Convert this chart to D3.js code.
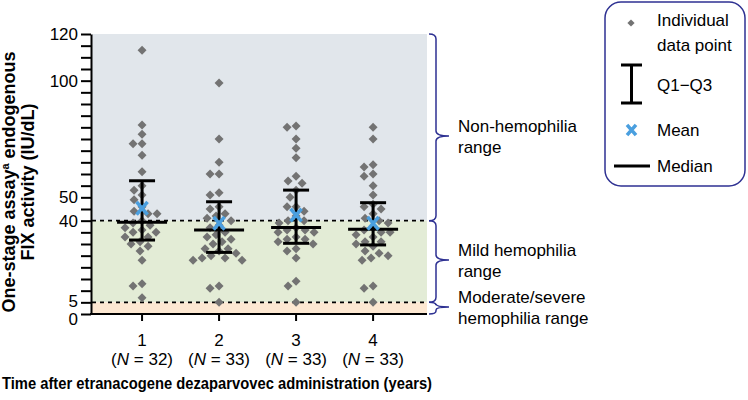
<!DOCTYPE html>
<html>
<head>
<meta charset="utf-8">
<script src="https://cdn.jsdelivr.net/npm/d3@7"></script>
<style>
  body { margin: 0; background: #fff; }
  svg { font-family: "Liberation Sans", Arial, sans-serif; }
</style>
</head>
<body>
<svg id="chart" width="748" height="400"></svg>
<script>
// data
var years = [1, 2, 3, 4];
var nLabels = ['32', '33', '33', '33'];

var year1 = [113, 81, 77, 73, 73, 68, 61, 55, 53, 51, 49, 46, 44, 43, 43, 40,
             39, 38, 37, 36, 35, 35, 33, 33, 31, 30, 29, 27, 23, 13, 12, 7];
var year2 = [99, 75, 65, 60, 60, 52, 51, 46, 45, 43, 42, 41, 40, 38, 37, 35, 34,
             33, 32, 31, 30, 28, 28, 27, 26, 25, 24, 24, 23, 23, 12, 11, 5];
var year3 = [80.6, 80, 75, 71, 67, 59, 57, 56, 53, 50, 46, 46, 44, 42, 40, 40, 39,
             37, 36, 36, 35, 35, 33, 32, 32, 31, 30, 28, 27, 24, 14, 12, 5];
var year4 = [80, 75, 64, 63, 60, 59, 55, 51, 47, 46, 45, 43, 41, 40, 39, 37, 36,
             35, 35, 34, 33, 31, 31, 30, 29, 27, 26, 25, 24, 23, 12, 11, 5];
var points = [year1, year2, year3, year4];

var q1 = [31.7, 26.4, 30.3, 29.6];
var medians = [39.3, 36.0, 37.1, 36.3];
var q3 = [57.1, 48.1, 53.1, 47.7];
var means = [45.3, 38.9, 42.4, 38.9];

var yTicks = [0, 5, 40, 50, 100, 120];
var bands = [
  { from: 40, to: 120, color: '#e1e6eb', label: ['Non-hemophilia', 'range'] },
  { from: 5, to: 40, color: '#e3ecd6', label: ['Mild hemophilia', 'range'] },
  { from: 0, to: 5, color: '#fde8d2', label: ['Moderate/severe', 'hemophilia range'] }
];

var navy = '#2e3192';
var grey = '#737373';
var blue = '#4a9fdf';

var svg = d3.select('#chart');

var x = d3.scaleLinear().domain([0.35, 4.7]).range([92, 427]);
var y = d3.scaleLinear().domain([0, 120]).range([314, 34]);

// background ranges
svg.selectAll('.band')
  .data(bands)
  .enter()
  .append('rect')
    .attr('x', x(0.35))
    .attr('width', x(4.7) - x(0.35))
    .attr('y', d => y(d.to))
    .attr('height', d => y(d.from) - y(d.to))
    .attr('fill', d => d.color);

svg.selectAll('.cutoff')
  .data([40, 5])
  .enter()
  .append('line')
    .attr('x1', x(0.35))
    .attr('x2', x(4.7))
    .attr('y1', d => y(d))
    .attr('y2', d => y(d))
    .attr('stroke', '#000')
    .attr('stroke-width', 1.6)
    .attr('stroke-dasharray', '4,4');

// beeswarm: push each point sideways until it no longer touches the others
var minGap = 9;
function swarm(values, cx) {
  var placed = [];
  values.slice().sort((a, b) => b - a).forEach(v => {
    var py = y(v);
    for (var k = 0; k < 400; k++) {
      var px = cx + (k % 2 ? -1 : 1) * Math.ceil(k / 2) * 0.5;
      var hit = placed.some(p => (p.x - px) * (p.x - px) + (p.y - py) * (p.y - py) < minGap * minGap);
      if (!hit) { placed.push({ x: px, y: py }); break; }
    }
  });
  return placed;
}

var diamond = d3.symbol().type(d3.symbolSquare).size(40);

years.forEach((yr, i) => {
  var g = svg.append('g');
  g.selectAll('path')
    .data(swarm(points[i], x(yr)))
    .enter()
    .append('path')
      .attr('d', diamond)
      .attr('transform', d => `translate(${d.x},${d.y}) rotate(45)`)
      .attr('fill', grey);
});

// Q1–Q3 bars and medians
var stats = svg.append('g')
  .attr('stroke', '#000')
  .attr('stroke-width', 3);

years.forEach((yr, i) => {
  var cx = x(yr);
  stats.append('line')
    .attr('x1', cx).attr('x2', cx)
    .attr('y1', y(q1[i])).attr('y2', y(q3[i]));
  [q1[i], q3[i]].forEach(q => {
    stats.append('line')
      .attr('x1', cx - 13).attr('x2', cx + 13)
      .attr('y1', y(q)).attr('y2', y(q));
  });
  stats.append('line')
    .attr('x1', cx - 25).attr('x2', cx + 25)
    .attr('y1', y(medians[i])).attr('y2', y(medians[i]));
});

function cross(sel, cx, cy, r) {
  sel.append('path')
    .attr('d', `M${cx - r},${cy - r * 1.15}L${cx + r},${cy + r * 1.15}M${cx - r},${cy + r * 1.15}L${cx + r},${cy - r * 1.15}`)
    .attr('stroke', blue)
    .attr('stroke-width', 3.5)
    .attr('fill', 'none');
}

years.forEach((yr, i) => cross(svg, x(yr), y(means[i]), 5.5));

// axes
var yAxis = d3.axisLeft(y)
  .tickValues(d3.range(0, 121, 5))
  .tickSize(10)
  .tickSizeOuter(0)
  .tickPadding(3)
  .tickFormat(d => yTicks.includes(d) ? d : '');

var gy = svg.append('g')
  .attr('transform', 'translate(91,0)')
  .call(yAxis);
gy.selectAll('line, path').attr('stroke-width', 2);
gy.selectAll('text')
  .style('font-size', '17px')
  .attr('fill', '#000')
  .attr('dy', d => d === 0 ? '0.6em' : d === 5 ? '0.25em' : '0.32em');

svg.append('line')
  .attr('x1', 90).attr('x2', x(4.7))
  .attr('y1', y(0)).attr('y2', y(0))
  .attr('stroke', '#000')
  .attr('stroke-width', 2);

var gx = svg.append('g');
years.forEach((yr, i) => {
  gx.append('line')
    .attr('x1', x(yr)).attr('x2', x(yr))
    .attr('y1', y(0)).attr('y2', y(0) + 7)
    .attr('stroke', '#000')
    .attr('stroke-width', 2);
  gx.append('text')
    .attr('x', x(yr))
    .attr('y', 346)
    .attr('text-anchor', 'middle')
    .style('font-size', '17px')
    .text(yr);
  var t = gx.append('text')
    .attr('x', x(yr))
    .attr('y', 365)
    .attr('text-anchor', 'middle')
    .style('font-size', '17px');
  t.append('tspan').text('(');
  t.append('tspan').style('font-style', 'italic').text('N');
  t.append('tspan').text(' = ' + nLabels[i] + ')');
});

svg.append('text')
  .attr('x', 2)
  .attr('y', 389)
  .attr('textLength', 430)
  .attr('lengthAdjust', 'spacingAndGlyphs')
  .style('font-size', '17px')
  .style('font-weight', 'bold')
  .text('Time after etranacogene dezaparvovec administration (years)');

var yTitle = svg.append('text')
  .attr('transform', 'translate(0,182) rotate(-90)')
  .attr('text-anchor', 'middle')
  .style('font-size', '18px')
  .style('font-weight', 'bold');
var l1 = yTitle.append('tspan').attr('x', 0).attr('y', 15);
l1.append('tspan').text('One-stage assay');
l1.append('tspan').attr('dy', -6).style('font-size', '11px').text('a');
l1.append('tspan').attr('dy', 6).text(' endogenous');
yTitle.append('tspan').attr('x', 0).attr('y', 34).text('FIX activity (IU/dL)');

// braces for the ranges
function brace(y0, y1, tip) {
  var x0 = 429, x1 = 436, x2 = 449;
  var r = Math.min(5, (y1 - y0) / 4);
  return `M${x0},${y0}Q${x1},${y0} ${x1},${y0 + r}L${x1},${tip - r}` +
         `Q${x1},${tip} ${x2},${tip}Q${x1},${tip} ${x1},${tip + r}` +
         `L${x1},${y1 - r}Q${x1},${y1} ${x0},${y1}`;
}

var tips = [136, 260, 307];
var rangeLabels = svg.append('g');
bands.forEach((b, i) => {
  rangeLabels.append('path')
    .attr('d', brace(y(b.to), y(b.from), tips[i]))
    .attr('fill', 'none')
    .attr('stroke', navy)
    .attr('stroke-width', 1.5);
  b.label.forEach((line, j) => {
    rangeLabels.append('text')
      .attr('x', 458)
      .attr('y', tips[i] - 4 + j * 21)
      .style('font-size', '17px')
      .text(line);
  });
});

// legend
var legend = svg.append('g');
legend.append('rect')
  .attr('x', 605).attr('y', 2)
  .attr('width', 140).attr('height', 184)
  .attr('rx', 16)
  .attr('fill', '#fff')
  .attr('stroke', navy)
  .attr('stroke-width', 1.5);

legend.append('path')
  .attr('d', d3.symbol().type(d3.symbolSquare).size(26))
  .attr('transform', 'translate(631,23) rotate(45)')
  .attr('fill', grey);

legend.append('path')
  .attr('d', 'M621,65H642M631.5,65V103M621,103H642')
  .attr('stroke', '#000')
  .attr('stroke-width', 3)
  .attr('fill', 'none');

cross(legend, 631.5, 130, 4.5);

legend.append('line')
  .attr('x1', 614).attr('x2', 650)
  .attr('y1', 166).attr('y2', 166)
  .attr('stroke', '#000')
  .attr('stroke-width', 3);

var legendText = [['Individual', 26], ['data point', 51], ['Q1\u2212Q3', 91], ['Mean', 136], ['Median', 172]];
legend.selectAll('.ltext')
  .data(legendText)
  .enter()
  .append('text')
    .attr('x', 657)
    .attr('y', d => d[1])
    .style('font-size', '17px')
    .text(d => d[0]);
</script>
</body>
</html>
